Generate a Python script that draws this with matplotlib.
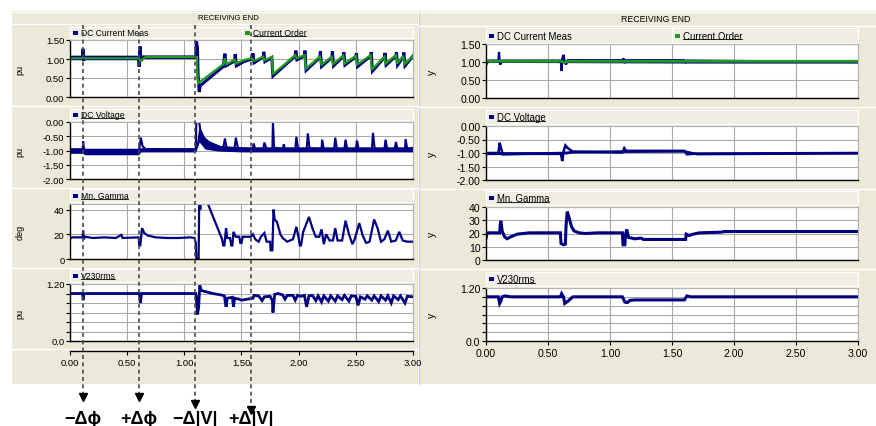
import numpy as np
import matplotlib
matplotlib.use("Agg")
import matplotlib.pyplot as plt
from matplotlib.patches import Rectangle
from matplotlib.lines import Line2D
from matplotlib.transforms import blended_transform_factory

plt.rcParams['font.family'] = ['Liberation Sans', 'DejaVu Sans']

# ---------------- data (time in s) ----------------
# left panel
l_idc = [(0, 1.04), (0.11, 1.04), (0.113, 1.27), (0.118, 0.95), (0.125, 1.04), (0.60, 1.04),
         (0.605, 0.80), (0.612, 1.33), (0.62, 0.95), (0.64, 1.05), (1.10, 1.05), (1.105, 1.47),
         (1.115, 1.30), (1.12, 0.60), (1.13, 0.13), (1.14, 0.30), (1.34, 0.80), (1.355, 1.14),
         (1.365, 0.82), (1.44, 0.95), (1.445, 1.13), (1.455, 0.82), (1.52, 0.93), (1.59, 1.0),
         (1.60, 1.15), (1.61, 0.90), (1.69, 1.05), (1.695, 1.19), (1.705, 0.93), (1.765, 1.04),
         (1.775, 0.55), (1.97, 1.08), (1.975, 1.22), (1.985, 0.98), (2.05, 1.08), (2.055, 1.22),
         (2.065, 0.70), (2.185, 1.04), (2.19, 1.20), (2.20, 0.80), (2.29, 1.04), (2.295, 1.20),
         (2.305, 0.82), (2.39, 1.07), (2.395, 1.18), (2.405, 0.84), (2.50, 1.06), (2.505, 1.15),
         (2.515, 0.80), (2.63, 1.08), (2.635, 1.18), (2.645, 0.68), (2.75, 1.04), (2.755, 1.16),
         (2.765, 0.84), (2.85, 1.08), (2.855, 1.18), (2.865, 0.84), (2.915, 1.06), (2.92, 1.17),
         (2.93, 0.82), (3.0, 1.08)]
l_idc_band = [(0, 0.98, 1.10), (0.60, 0.98, 1.10), (0.65, 1.01, 1.10), (1.10, 1.01, 1.10)]
l_order = [(0, 1.02), (0.60, 1.02), (0.615, 0.95), (0.64, 1.0), (0.66, 1.05), (1.11, 1.05),
           (1.115, 0.5), (1.12, 0.36), (1.34, 0.86), (1.355, 1.02), (1.365, 0.86), (1.44, 0.98),
           (1.45, 0.88), (1.52, 0.97), (1.59, 1.02), (1.61, 0.95), (1.69, 1.06), (1.70, 0.97),
           (1.765, 1.05), (1.775, 0.60), (1.97, 1.10), (1.985, 1.02), (2.05, 1.10), (2.065, 0.75),
           (2.185, 1.06), (2.20, 0.85), (2.29, 1.06), (2.30, 0.86), (2.39, 1.09), (2.40, 0.88),
           (2.50, 1.08), (2.51, 0.85), (2.63, 1.10), (2.64, 0.72), (2.75, 1.06), (2.76, 0.88),
           (2.85, 1.10), (2.86, 0.88), (2.915, 1.08), (2.925, 0.86), (3.0, 1.08)]
l_vdc = [(0, -1.0), (0.11, -1.0), (0.115, -0.68), (0.125, -1.0), (0.135, -1.05), (0.60, -1.05),
         (0.605, -0.95), (0.62, -0.55), (0.635, -0.85), (0.66, -0.95), (1.10, -0.98), (1.105, 0.0),
         (1.13, 0.0), (1.14, -0.3), (1.17, -0.55), (1.22, -0.72), (1.30, -0.85), (1.34, -0.92),
         (1.355, -0.58), (1.37, -0.92), (1.44, -0.92), (1.45, -0.55), (1.47, -0.92), (1.60, -0.95),
         (1.605, -0.75), (1.62, -0.95), (1.69, -0.95), (1.70, -0.72), (1.72, -0.95), (1.77, -0.95),
         (1.775, 0.0), (1.785, -0.9), (1.86, -0.95), (1.87, -0.78), (1.88, -0.95), (1.97, -0.95),
         (1.98, -0.52), (1.995, -0.95), (2.07, -0.95), (2.08, -0.4), (2.095, -0.92), (2.20, -0.95),
         (2.205, -0.62), (2.22, -0.95), (2.31, -0.95), (2.32, -0.55), (2.335, -0.95), (2.40, -0.95),
         (2.41, -0.62), (2.425, -0.95), (2.50, -0.95), (2.51, -0.65), (2.525, -0.95), (2.64, -0.95),
         (2.65, -0.38), (2.665, -0.95), (2.75, -0.95), (2.76, -0.62), (2.775, -0.95), (2.84, -0.95),
         (2.85, -0.7), (2.865, -0.95), (2.93, -0.95), (2.935, -0.6), (2.95, -0.95), (3.0, -0.9)]
l_vdc_band = [(0, -1.1, -0.9), (0.11, -1.1, -0.9), (0.13, -1.15, -0.92), (0.60, -1.15, -0.92),
              (0.62, -1.05, -0.9), (1.10, -1.05, -0.9), (1.13, -0.7, -0.1), (1.18, -0.95, -0.6),
              (1.3, -1.02, -0.82), (1.5, -1.05, -0.87), (3.0, -1.05, -0.87)]
l_gamma = [(0, 16.5), (0.02, 17.5), (0.11, 17.5), (0.115, 23), (0.12, 16), (0.13, 18), (0.20, 17),
           (0.30, 17.5), (0.40, 17), (0.45, 19.5), (0.46, 17), (0.60, 17.5), (0.605, 11),
           (0.615, 11), (0.63, 25), (0.65, 21), (0.68, 19), (0.75, 17.5), (0.85, 17), (0.95, 17),
           (1.05, 17.5), (1.09, 17), (1.10, 13), (1.105, 0), (1.125, 0), (1.13, 46), (1.14, 40),
           (1.145, 46), (1.2, 46), (1.33, 16), (1.34, 11), (1.35, 11), (1.365, 25), (1.375, 17),
           (1.40, 17), (1.41, 11), (1.42, 11), (1.43, 22), (1.45, 18), (1.48, 18), (1.49, 13),
           (1.50, 13), (1.51, 18), (1.58, 18), (1.60, 20), (1.62, 16), (1.65, 14), (1.67, 18),
           (1.70, 21), (1.72, 14), (1.75, 14), (1.755, 7), (1.77, 7), (1.78, 40), (1.79, 32),
           (1.81, 30), (1.84, 20), (1.86, 17), (1.90, 14), (1.95, 16), (1.98, 26), (2.0, 17),
           (2.01, 11), (2.02, 11), (2.04, 22), (2.09, 34), (2.12, 25), (2.15, 18), (2.18, 18),
           (2.2, 24), (2.22, 12), (2.24, 20), (2.27, 15), (2.30, 15), (2.32, 25), (2.34, 15),
           (2.38, 15), (2.41, 31), (2.44, 20), (2.47, 12), (2.49, 16), (2.53, 29), (2.56, 19),
           (2.59, 13), (2.62, 14), (2.66, 32), (2.69, 25), (2.72, 14), (2.75, 16), (2.78, 23),
           (2.81, 14), (2.85, 15), (2.88, 22), (2.91, 15), (2.95, 14), (3.0, 14)]
l_v230 = [(0, 1.0), (0.11, 1.0), (0.115, 0.86), (0.12, 0.98), (0.13, 1.0), (0.60, 1.0), (0.605, 1.03),
          (0.615, 0.80), (0.625, 0.98), (0.63, 1.0), (1.10, 1.0), (1.105, 0.92), (1.115, 0.56),
          (1.125, 0.70), (1.135, 1.17), (1.15, 1.06), (1.2, 1.03), (1.25, 1.0), (1.32, 0.97),
          (1.35, 0.95), (1.365, 0.72), (1.375, 0.9), (1.42, 0.92), (1.43, 0.72), (1.44, 0.9),
          (1.48, 0.88), (1.5, 0.86), (1.55, 0.88), (1.6, 0.9), (1.61, 0.96), (1.65, 0.95),
          (1.68, 0.85), (1.70, 0.93), (1.75, 0.94), (1.77, 0.85), (1.775, 0.6), (1.79, 0.98),
          (1.82, 1.0), (1.86, 0.97), (1.88, 0.88), (1.90, 0.96), (1.95, 0.96), (1.97, 0.86),
          (1.99, 0.96), (2.02, 0.94), (2.05, 0.96), (2.07, 0.72), (2.09, 0.95), (2.12, 0.96),
          (2.15, 0.85), (2.17, 0.95), (2.20, 0.82), (2.22, 0.95), (2.26, 0.84), (2.28, 0.95),
          (2.32, 0.84), (2.34, 0.95), (2.38, 0.87), (2.40, 0.96), (2.44, 0.84), (2.46, 0.95),
          (2.50, 0.94), (2.52, 0.75), (2.54, 0.93), (2.58, 0.88), (2.60, 0.95), (2.64, 0.86),
          (2.66, 0.95), (2.70, 0.83), (2.72, 0.95), (2.76, 0.86), (2.78, 0.95), (2.81, 0.80),
          (2.83, 0.95), (2.87, 0.87), (2.89, 0.95), (2.93, 0.80), (2.95, 0.94), (3.0, 0.93)]

# right panel
r_idc = [(0, 1.03), (0.01, 0.97), (0.02, 1.04), (0.10, 1.04), (0.105, 1.28), (0.11, 1.0),
         (0.115, 0.93), (0.13, 1.04), (0.60, 1.04), (0.605, 0.95), (0.61, 0.75), (0.615, 1.1),
         (0.625, 1.2), (0.635, 1.0), (0.645, 0.93), (0.66, 1.05), (1.10, 1.05), (1.11, 1.1),
         (1.12, 0.97), (1.13, 1.05), (1.60, 1.05), (1.61, 0.97), (1.62, 1.04), (2.0, 1.03), (3.0, 1.0)]
r_idc_band = [(0, 0.99, 1.06), (1.7, 0.97, 1.06), (3.0, 0.97, 1.04)]
r_order = [(0, 1.02), (0.61, 1.02), (0.63, 0.98), (0.66, 1.02), (3.0, 1.02)]
r_vdc = [(0, -1.0), (0.10, -1.0), (0.11, -0.62), (0.12, -0.8), (0.135, -1.05), (0.6, -1.0),
         (0.605, -1.05), (0.615, -1.3), (0.625, -0.95), (0.64, -0.72), (0.66, -0.82), (0.70, -0.95),
         (1.10, -0.98), (1.115, -0.82), (1.13, -0.92), (1.60, -0.92), (1.62, -1.05), (1.70, -1.02),
         (3.0, -1.0)]
r_vdc_band = [(0, -1.06, -0.95), (0.6, -1.06, -0.95), (0.7, -1.0, -0.9), (1.1, -0.98, -0.88),
              (1.6, -0.97, -0.88), (1.7, -1.07, -0.98), (3.0, -1.04, -0.96)]
r_gamma = [(0, 16.5), (0.01, 20.5), (0.11, 20.5), (0.115, 27), (0.12, 29.5), (0.13, 22), (0.15, 17.5),
           (0.17, 16), (0.20, 17.5), (0.25, 19.5), (0.3, 20), (0.35, 20.5), (0.60, 20.5),
           (0.605, 12.5), (0.625, 11.5), (0.64, 12), (0.645, 25), (0.655, 36.5), (0.67, 32),
           (0.69, 25), (0.71, 22), (0.75, 20.5), (0.8, 20), (0.9, 20.5), (1.10, 20.5), (1.105, 11.5),
           (1.12, 11.5), (1.125, 19), (1.135, 23), (1.15, 17), (1.20, 16), (1.25, 16.5), (1.27, 15.5),
           (1.61, 15.5), (1.615, 19.5), (1.64, 18.5), (1.67, 19.5), (1.72, 20.5), (1.90, 21),
           (1.92, 21.5), (3.0, 21.5)]
r_v230 = [(0, 1.0), (0.10, 1.0), (0.11, 0.85), (0.12, 0.9), (0.13, 1.0), (0.15, 1.02), (0.2, 1.0),
          (0.60, 1.0), (0.61, 1.07), (0.625, 1.0), (0.635, 0.85), (0.66, 0.9), (0.70, 1.0),
          (1.10, 1.0), (1.12, 0.88), (1.14, 0.87), (1.16, 0.92), (1.20, 0.93), (1.60, 0.93),
          (1.62, 1.02), (1.65, 1.0), (3.0, 1.0)]

event_t = [0.115, 0.605, 1.095, 1.585]
event_lbl = ['\u2212\u0394\u03d5', '+\u0394\u03d5', '\u2212\u0394|V|', '+\u0394|V|']
event_end = [400, 400, 407, 413]   # px where each dashed arrow stops

x_ticks = [0, 0.5, 1.0, 1.5, 2.0, 2.5, 3.0]
x_labels = ['0.00', '0.50', '1.00', '1.50', '2.00', '2.50', '3.00']
idc_ticks = [0, 0.5, 1.0, 1.5]
idc_labels = ['0.00', '0.50', '1.00', '1.50']
vdc_ticks = [-2, -1.5, -1, -0.5, 0]
vdc_labels = ['-2.00', '-1.50', '-1.00', '-0.50', '0.00']
v230_ticks = [0, 0.2, 0.4, 0.6, 0.8, 1.0, 1.2]
v230_labels = ['0.0', '', '', '', '', '', '1.20']

NAVY = '#000080'
GREEN = '#1f9a1f'
BEIGE = '#ece9d8'
GRID = '#a9a9a9'

W, H = 876, 427
fig = plt.figure(figsize=(W / 100, H / 100), dpi=100)
fig.patch.set_facecolor('white')

bg = fig.add_axes([0, 0, 1, 1], zorder=-1)
bg.set_xlim(0, W)
bg.set_ylim(H, 0)
bg.axis('off')


def box(x0, y0, x1, y1):
    return [x0 / W, 1 - y1 / H, (x1 - x0) / W, (y1 - y0) / H]


def arr(pts):
    return np.array(pts, dtype=float).T


# panel backgrounds
bg.add_patch(Rectangle((12, 12), 406, 373, fc=BEIGE, ec='none'))
bg.add_patch(Rectangle((419, 12), 457, 373, fc=BEIGE, ec='none'))
bg.plot([418.5, 418.5], [12, 385], color='#c9cfe6', lw=1)
for y in [12.5, 25]:
    bg.plot([12, 418], [y, y], color='white', lw=1)
for y in [12.5, 27]:
    bg.plot([419, 876], [y, y], color='white', lw=1)
for y in [107, 189, 269, 350]:
    bg.plot([12, 418], [y, y], color='white', lw=1)
for y in [108, 190, 270]:
    bg.plot([419, 876], [y, y], color='white', lw=1)
bg.text(228, 18.7, 'RECEIVING END', ha='center', va='center', fontsize=5.6)
bg.text(656, 19.8, 'RECEIVING END', ha='center', va='center', fontsize=6.3)

underlined = []


def legend_bar(x0, x1, y0, y1, entries, fs):
    bg.add_patch(Rectangle((x0, y0), x1 - x0, y1 - y0, fc='#f0eee4', ec='white', lw=0.8))
    ym = (y0 + y1) / 2
    for i, (lbl, col, ul, xs) in enumerate(entries):
        if i > 0:
            bg.plot([xs - 3, xs - 3], [y0, y1], color='white', lw=0.8)
        bg.add_patch(Rectangle((xs, ym - 2), 5, 4, fc=col, ec='none'))
        t = bg.text(xs + 8, ym, lbl, ha='left', va='center', fontsize=fs)
        if ul:
            underlined.append(t)


def make_ax(x0, x1, y0, y1, ylim, yticks, ylabels, fs):
    ax = fig.add_axes(box(x0, y0, x1, y1))
    ax.set_xlim(0, 3)
    ax.set_ylim(*ylim)
    ax.set_xticks(x_ticks)
    ax.set_yticks(yticks)
    ax.set_yticklabels(ylabels)
    ax.set_axisbelow(True)
    ax.grid(True, color=GRID, lw=0.8)
    for s in ['top', 'right']:
        ax.spines[s].set_color('#b4b4b4')
        ax.spines[s].set_linewidth(0.8)
    for s in ['left', 'bottom']:
        ax.spines[s].set_color('black')
        ax.spines[s].set_linewidth(1.0)
    ax.tick_params(axis='x', length=0, labelbottom=False)
    ax.tick_params(axis='y', length=3, width=0.8, labelsize=fs, pad=1)
    return ax


def draw(ax, series, band=None, color=NAVY, lw=1.5):
    if band is not None:
        bt, lo, hi = arr(band)
        ax.fill_between(bt, lo, hi, color=color, lw=0)
    t, v = arr(series)
    ax.plot(t, v, color=color, lw=lw, solid_joinstyle='miter')


# ---------------- left panel ----------------
LX0, LX1 = 70, 413
lrows = [(28, 39, 41, 98), (110, 121, 123, 180), (190, 203, 205, 260), (270, 283, 285, 342)]
lfs = 6.8

r = lrows[0]
ax_l1 = make_ax(LX0, LX1, r[2], r[3], (0, 1.5), idc_ticks, idc_labels, lfs)
draw(ax_l1, l_idc, l_idc_band, lw=2.2)
draw(ax_l1, l_order, color=GREEN, lw=1.6)
legend_bar(LX0, LX1, r[0], r[1], [('DC Current Meas', NAVY, False, 73),
                                   ('Current Order', GREEN, True, 245)], 6.2)

r = lrows[1]
ax_l2 = make_ax(LX0, LX1, r[2], r[3], (-2, 0), vdc_ticks, vdc_labels, lfs)
draw(ax_l2, l_vdc, l_vdc_band, lw=1.5)
legend_bar(LX0, LX1, r[0], r[1], [('DC Voltage', NAVY, True, 73)], 6.2)

r = lrows[2]
ax_l3 = make_ax(LX0, LX1, r[2], r[3], (0, 44.5), [0, 20, 40], ['0', '20', '40'], lfs)
draw(ax_l3, l_gamma, lw=1.6)
legend_bar(LX0, LX1, r[0], r[1], [('Mn. Gamma', NAVY, True, 73)], 6.2)

r = lrows[3]
ax_l4 = make_ax(LX0, LX1, r[2], r[3], (0, 1.2), v230_ticks, v230_labels, lfs)
draw(ax_l4, l_v230, lw=2.0)
legend_bar(LX0, LX1, r[0], r[1], [('V230rms', NAVY, True, 73)], 6.2)

for r, lbl in zip(lrows, ['pu', 'pu', 'deg', 'pu']):
    bg.text(20, (r[2] + r[3]) / 2, lbl, rotation=90, ha='center', va='center', fontsize=6.5)

ax_lx = fig.add_axes(box(LX0, 351.5, LX1, 352))
ax_lx.set_facecolor('none')
ax_lx.set_xlim(0, 3)
ax_lx.set_yticks([])
for s in ['top', 'left', 'right']:
    ax_lx.spines[s].set_visible(False)
ax_lx.spines['bottom'].set_linewidth(1.0)
ax_lx.set_xticks(x_ticks)
ax_lx.set_xticklabels(x_labels)
ax_lx.tick_params(axis='x', length=3, width=0.8, labelsize=lfs, pad=2)

# ---------------- right panel ----------------
RX0, RX1 = 486, 858
rrows = [(29, 44, 45, 99), (111, 125, 127, 181), (192, 206, 208, 261), (273, 287, 289, 342)]
rfs = 7.6

r = rrows[0]
ax_r1 = make_ax(RX0, RX1, r[2], r[3], (0, 1.5), idc_ticks, idc_labels, rfs)
draw(ax_r1, r_idc, r_idc_band, lw=1.6)
draw(ax_r1, r_order, color=GREEN, lw=2.0)
legend_bar(RX0, RX1, r[0], r[1], [('DC Current Meas', NAVY, False, 489),
                                   ('Current Order', GREEN, True, 675)], 6.9)

r = rrows[1]
ax_r2 = make_ax(RX0, RX1, r[2], r[3], (-2, 0), vdc_ticks, vdc_labels, rfs)
draw(ax_r2, r_vdc, r_vdc_band, lw=1.8)
legend_bar(RX0, RX1, r[0], r[1], [('DC Voltage', NAVY, True, 489)], 6.9)

r = rrows[2]
ax_r3 = make_ax(RX0, RX1, r[2], r[3], (0, 40), [0, 10, 20, 30, 40],
                ['0', '10', '20', '30', '40'], rfs)
draw(ax_r3, r_gamma, lw=2.2)
legend_bar(RX0, RX1, r[0], r[1], [('Mn. Gamma', NAVY, True, 489)], 6.9)

r = rrows[3]
ax_r4 = make_ax(RX0, RX1, r[2], r[3], (0, 1.2), v230_ticks, v230_labels, rfs)
draw(ax_r4, r_v230, lw=2.2)
legend_bar(RX0, RX1, r[0], r[1], [('V230rms', NAVY, True, 489)], 6.9)
ax_r4.set_xticklabels(x_labels)
ax_r4.tick_params(axis='x', length=3, width=0.8, labelbottom=True, labelsize=rfs, pad=2)

for r in rrows:
    bg.text(432, (r[2] + r[3]) / 2, 'y', rotation=90, ha='center', va='center', fontsize=7.5)

# ---------------- event markers ----------------
trans = blended_transform_factory(ax_l1.transData, fig.transFigure)
for t, lbl, yend in zip(event_t, event_lbl, event_end):
    fig.add_artist(Line2D([t, t], [1 - 26 / H, 1 - yend / H], transform=trans,
                          color='#4a4a4a', lw=1.2, ls=(0, (2.4, 2.0)), zorder=10))
    fig.add_artist(Line2D([t], [1 - (yend - 2) / H], transform=trans, marker='v', ms=5.5,
                          color='black', lw=0, zorder=11))
    fig.text(t, 1 - 420 / H, lbl, transform=trans, ha='center', va='center',
             fontsize=13, fontweight='bold', zorder=12)

# underline the linked legend names
fig.canvas.draw()
renderer = fig.canvas.get_renderer()
inv = bg.transData.inverted()
for txt in underlined:
    bb = txt.get_window_extent(renderer)
    (ux0, uy), (ux1, _) = inv.transform([(bb.x0, bb.y0 + 1), (bb.x1 - 1, bb.y0 + 1)])
    bg.plot([ux0, ux1], [uy, uy], color='black', lw=0.6)

fig.savefig('out.png', dpi=100)
